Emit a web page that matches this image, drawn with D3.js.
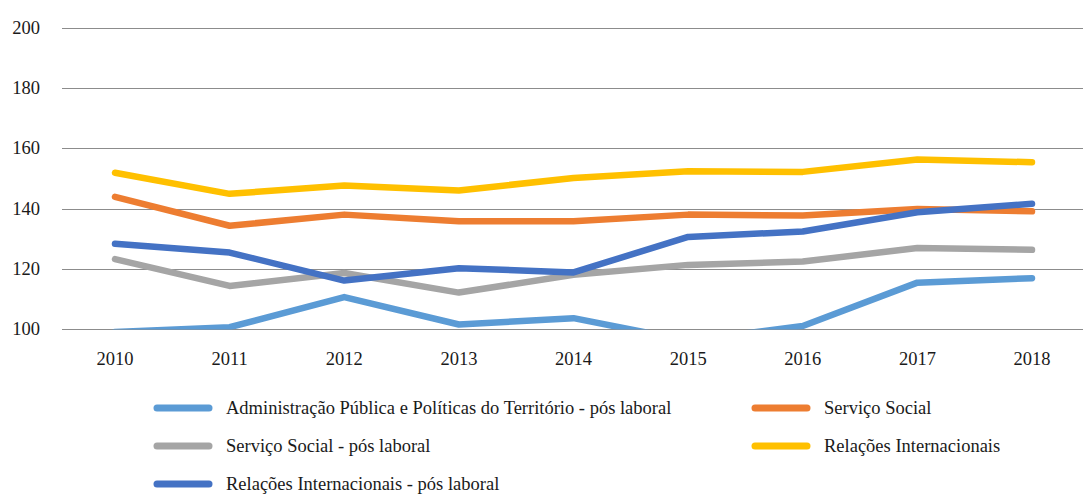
<!DOCTYPE html>
<html>
<head>
<meta charset="utf-8">
<script src="https://cdn.jsdelivr.net/npm/d3@7"></script>
<style>
  body { margin: 0; background: #fff; }
  text { font-family: "Liberation Serif", "Tinos", "Times New Roman", "DejaVu Serif", serif; fill: #1a1a1a; }
</style>
</head>
<body>
<div id="chart"></div>
<script>
// Data
var years = ["2010", "2011", "2012", "2013", "2014", "2015", "2016", "2017", "2018"];
var yTicks = [100, 120, 140, 160, 180, 200];

var adminPosLaboral = [99.0, 100.6, 110.6, 101.5, 103.6, 96.1, 101, 115.4, 116.9];
var servicoSocial = [143.9, 134.3, 138, 135.8, 135.8, 138, 137.7, 139.9, 139.1];
var servicoSocialPos = [123.2, 114.3, 118.6, 112.1, 118, 121.3, 122.4, 126.9, 126.3];
var relacoesInt = [151.9, 144.9, 147.7, 146, 150.2, 152.4, 152.2, 156.3, 155.4];
var relacoesIntPos = [128.3, 125.4, 116.1, 120.2, 118.8, 130.6, 132.4, 138.8, 141.6];

var seriesNames = [
  "Administração Pública e Políticas do Território - pós laboral",
  "Serviço Social",
  "Serviço Social - pós laboral",
  "Relações Internacionais",
  "Relações Internacionais - pós laboral"
];
var seriesColors = ["#5b9bd5", "#ed7d31", "#a5a5a5", "#ffc000", "#4472c4"];
var seriesValues = [adminPosLaboral, servicoSocial, servicoSocialPos, relacoesInt, relacoesIntPos];

var width = 1083,
    height = 494;

var svg = d3.select("#chart")
            .append("svg")
              .attr("width", width)
              .attr("height", height);

// Scales
var x = d3.scalePoint()
          .domain(years)
          .range([115, 1032]);

var y = d3.scaleLinear()
          .domain([100, 200])
          .range([329, 28]);

var plotLeft = 62,
    plotRight = width;

// Gridlines
svg.append("g")
  .selectAll("line")
  .data(yTicks)
  .enter()
  .append("line")
    .attr("x1", plotLeft)
    .attr("x2", plotRight)
    .attr("y1", function(d) { return Math.round(y(d)) + 0.5; })
    .attr("y2", function(d) { return Math.round(y(d)) + 0.5; })
    .attr("stroke", "#8c8c8c")
    .attr("stroke-width", 1);

// Y tick labels
svg.append("g")
  .selectAll("text")
  .data(yTicks)
  .enter()
  .append("text")
    .attr("x", 40)
    .attr("y", function(d) { return y(d); })
    .attr("dy", "0.32em")
    .attr("text-anchor", "end")
    .style("font-size", "18.5px")
    .text(function(d) { return d; });

// X tick labels
svg.append("g")
  .selectAll("text")
  .data(years)
  .enter()
  .append("text")
    .attr("x", function(d) { return x(d); })
    .attr("y", 365)
    .attr("text-anchor", "middle")
    .style("font-size", "18.5px")
    .text(function(d) { return d; });

// Clip lines to the plot area (values below the axis minimum are hidden)
svg.append("clipPath")
    .attr("id", "plot-clip")
  .append("rect")
    .attr("x", 0)
    .attr("y", 0)
    .attr("width", width)
    .attr("height", y(100) + 0.5);

var line = d3.line()
             .x(function(d, i) { return x(years[i]); })
             .y(function(d) { return y(d); });

svg.append("g")
    .attr("clip-path", "url(#plot-clip)")
  .selectAll("path")
  .data(seriesValues)
  .enter()
  .append("path")
    .attr("d", line)
    .attr("fill", "none")
    .attr("stroke", function(d, i) { return seriesColors[i]; })
    .attr("stroke-width", 6.5)
    .attr("stroke-linecap", "round")
    .attr("stroke-linejoin", "round");

// Legend, two columns
var legendCols = [154, 752],
    legendRows = [408, 446, 484],
    swatchLength = 58;

var legend = svg.selectAll(".legend")
                .data(seriesNames)
                .enter()
                .append("g")
                  .attr("class", "legend")
                  .attr("transform", function(d, i) {
                    return "translate(" + legendCols[i % 2] + "," + legendRows[Math.floor(i / 2)] + ")";
                  });

legend.append("line")
      .attr("x1", 3)
      .attr("x2", swatchLength - 3)
      .attr("y1", 0)
      .attr("y2", 0)
      .attr("stroke", function(d, i) { return seriesColors[i]; })
      .attr("stroke-width", 7)
      .attr("stroke-linecap", "round");

legend.append("text")
      .attr("x", 72)
      .attr("y", 0)
      .attr("dy", "0.32em")
      .style("font-size", "18.5px")
      .text(function(d) { return d; });
</script>
</body>
</html>
